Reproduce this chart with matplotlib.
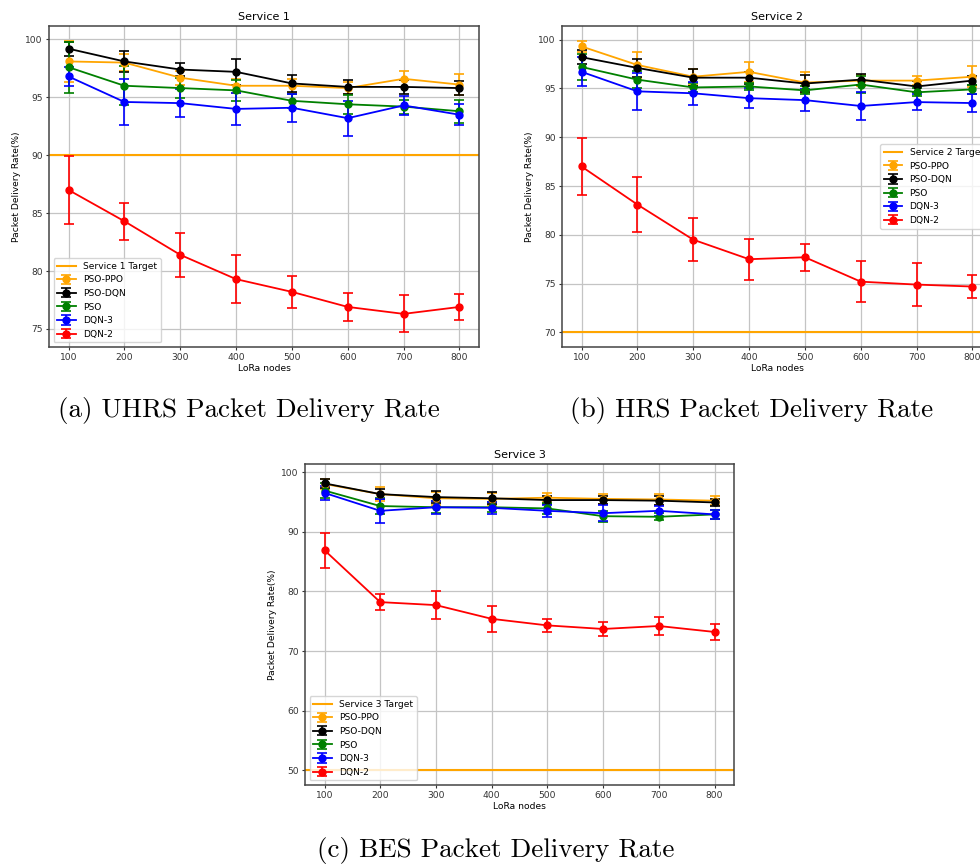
import numpy as np
import matplotlib
matplotlib.use('Agg')
import matplotlib.pyplot as plt

# ── Data ────────────────────────────────────────────────────────────────
nodes = [100, 200, 300, 400, 500, 600, 700, 800]
methods = ['PSO-PPO', 'PSO-DQN', 'PSO', 'DQN-3', 'DQN-2']
colors  = ['orange', 'black', 'green', 'blue', 'red']

# Service 1 (UHRS)
s1_mean = {
    'PSO-PPO': [98.1, 98.0, 96.7, 96.0, 96.0, 95.8, 96.6, 96.1],
    'PSO-DQN': [99.2, 98.1, 97.4, 97.2, 96.2, 95.9, 95.9, 95.8],
    'PSO':     [97.6, 96.0, 95.8, 95.6, 94.7, 94.4, 94.2, 93.8],
    'DQN-3':   [96.8, 94.6, 94.5, 94.0, 94.1, 93.2, 94.3, 93.5],
    'DQN-2':   [87.0, 84.3, 81.4, 79.3, 78.2, 76.9, 76.3, 76.9],
}
s1_err = {
    'PSO-PPO': [1.8, 0.7, 0.6, 0.6, 0.6, 0.5, 0.7, 0.9],
    'PSO-DQN': [0.6, 0.9, 0.6, 1.1, 0.7, 0.6, 0.6, 0.6],
    'PSO':     [2.2, 1.7, 0.9, 0.9, 0.6, 0.8, 0.6, 1.0],
    'DQN-3':   [0.8, 2.0, 1.2, 1.4, 1.2, 1.5, 0.8, 0.9],
    'DQN-2':   [2.9, 1.6, 1.9, 2.1, 1.4, 1.2, 1.6, 1.1],
}
s1_target = 90

# Service 2 (HRS)
s2_mean = {
    'PSO-PPO': [99.3, 97.4, 96.2, 96.7, 95.6, 95.8, 95.8, 96.2],
    'PSO-DQN': [98.2, 97.1, 96.1, 96.1, 95.5, 95.9, 95.2, 95.8],
    'PSO':     [97.2, 95.9, 95.1, 95.2, 94.8, 95.4, 94.6, 94.9],
    'DQN-3':   [96.7, 94.7, 94.5, 94.0, 93.8, 93.2, 93.6, 93.5],
    'DQN-2':   [87.0, 83.1, 79.5, 77.5, 77.7, 75.2, 74.9, 74.7],
}
s2_err = {
    'PSO-PPO': [0.6, 1.3, 0.8, 1.0, 1.1, 0.6, 0.5, 1.1],
    'PSO-DQN': [0.7, 0.9, 0.9, 0.6, 0.9, 0.6, 0.6, 0.5],
    'PSO':     [1.3, 0.9, 0.5, 0.4, 0.4, 0.9, 0.4, 0.5],
    'DQN-3':   [1.5, 1.9, 1.2, 1.0, 1.1, 1.4, 0.8, 0.9],
    'DQN-2':   [2.9, 2.8, 2.2, 2.1, 1.4, 2.1, 2.2, 1.2],
}
s2_target = 70

# Service 3 (BES)
s3_mean = {
    'PSO-PPO': [98.0, 96.3, 95.6, 95.5, 95.7, 95.5, 95.4, 95.2],
    'PSO-DQN': [98.1, 96.3, 95.8, 95.6, 95.3, 95.3, 95.2, 94.9],
    'PSO':     [96.9, 94.3, 94.1, 94.1, 93.9, 92.6, 92.5, 92.9],
    'DQN-3':   [96.5, 93.5, 94.1, 94.0, 93.5, 93.1, 93.5, 92.9],
    'DQN-2':   [86.9, 78.2, 77.7, 75.4, 74.3, 73.7, 74.2, 73.2],
}
s3_err = {
    'PSO-PPO': [0.9, 1.2, 1.1, 1.0, 0.8, 0.8, 0.9, 0.7],
    'PSO-DQN': [0.8, 0.9, 1.0, 1.0, 0.7, 0.7, 0.8, 0.6],
    'PSO':     [1.2, 1.4, 1.0, 0.8, 0.9, 0.9, 0.6, 0.7],
    'DQN-3':   [1.2, 2.0, 1.1, 1.0, 1.0, 1.3, 0.8, 0.8],
    'DQN-2':   [2.9, 1.4, 2.3, 2.2, 1.1, 1.1, 1.5, 1.4],
}
s3_target = 50

# ── Style ───────────────────────────────────────────────────────────────
plt.rcParams['font.size'] = 6.6
plt.rcParams['axes.titlesize'] = 8
plt.rcParams['axes.linewidth'] = 1.1
plt.rcParams['axes.edgecolor'] = '#444444'
plt.rcParams['xtick.major.size'] = 2.5
plt.rcParams['ytick.major.size'] = 2.5
plt.rcParams['xtick.color'] = '#333333'
plt.rcParams['ytick.color'] = '#333333'


def draw_service(ax, means, errs, target, idx, legend_loc):
    ax.axhline(target, color='orange', lw=1.5, label=f'Service {idx} Target')
    for m, c in zip(methods, colors):
        ax.errorbar(nodes, means[m], yerr=errs[m], color=c, marker='o',
                    markersize=5, lw=1.3, capsize=3.4, elinewidth=1.2,
                    capthick=1.2, label=m)
    ax.set_title(f'Service {idx}', pad=4)
    ax.set_xlabel('LoRa nodes', labelpad=1)
    ax.set_ylabel('Packet Delivery Rate(%)', labelpad=3)
    ax.set_xticks(nodes)
    ax.tick_params(labelsize=6.6, pad=2)
    ax.grid(True, color='#c4c4c4', lw=0.9)
    ax.set_axisbelow(True)
    ax.legend(loc=legend_loc, fontsize=6.6, framealpha=0.8,
              handlelength=2.0, borderpad=0.4, labelspacing=0.5)


fig = plt.figure(figsize=(9.8, 8.64), dpi=100)
W, H = 980, 864

def px_axes(left, top, width, height):
    return fig.add_axes([left / W, (H - top - height) / H, width / W, height / H])

ax_a = px_axes(49, 26, 430, 321)
ax_b = px_axes(562, 26, 430, 321)
ax_c = px_axes(305, 464, 429, 321)

draw_service(ax_a, s1_mean, s1_err, s1_target, 1, 'lower left')
draw_service(ax_b, s2_mean, s2_err, s2_target, 2, 'center right')
draw_service(ax_c, s3_mean, s3_err, s3_target, 3, 'lower left')

cap_kw = dict(family='cmr10', fontsize=19.5, ha='center', va='center')
fig.text(249 / W, 1 - 411 / H, '(a) UHRS Packet Delivery Rate', **cap_kw)
fig.text(752 / W, 1 - 411 / H, '(b) HRS Packet Delivery Rate', **cap_kw)
fig.text(496 / W, 1 - 850 / H, '(c) BES Packet Delivery Rate', **cap_kw)

fig.savefig('out.png', dpi=100)
